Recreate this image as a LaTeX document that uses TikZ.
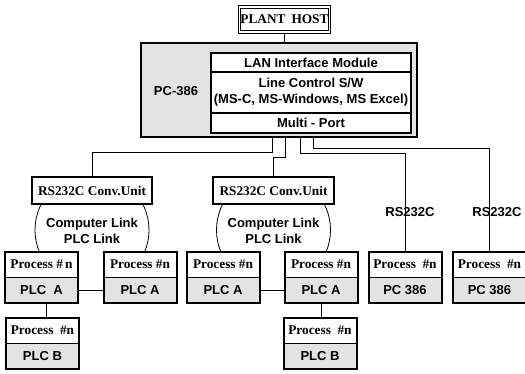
\documentclass[tikz,border=0pt]{standalone}
\usepackage{fontspec}
\setmainfont{Liberation Serif}
\setsansfont{Liberation Sans}
\definecolor{stip}{gray}{0.89}
\newcommand\mkpbox[5]{%
  \node[prow,anchor=north] (#1t) at (#2,#3) {#4};
  \node[plow,anchor=north] (#1b) at (#1t.south) {#5};
  \draw[line width=1pt] (#1t.south west) -- (#1t.south east);
  \draw[frame] (#1t.north west) rectangle (#1b.south east);
}
\begin{document}
\begin{tikzpicture}[x=1pt,y=-1pt,
  frame/.style={draw=black,line width=2pt},
  srf/.style={font=\fontsize{13.3}{16}\selectfont\rmfamily\bfseries},
  sf/.style={font=\fontsize{13}{16}\selectfont\sffamily\bfseries},
  prow/.style={srf,minimum width=73pt,minimum height=25pt,inner sep=0pt,outer sep=0pt,fill=white},
  plow/.style={sf,minimum width=73pt,minimum height=26pt,inner sep=0pt,outer sep=0pt,fill=stip},
  convbox/.style={srf,draw=black,line width=2pt,fill=white,minimum width=120pt,minimum height=27pt,inner sep=0pt,outer sep=0pt},
  innerrow/.style={sf,draw=black,line width=1.3pt,fill=white,minimum width=200pt,inner sep=0pt,outer sep=0pt,align=center},
  wire/.style={line width=0.8pt},
]
\useasboundingbox (0,0) rectangle (525,373);
\fill[white] (0,0) rectangle (525,373);

% plant host
\node[srf,draw=black,line width=1.3pt,double=white,double distance=1.2pt,fill=white,
      minimum width=90pt,minimum height=25pt,inner sep=0pt] (ph) at (284.5,19.5) {PLANT\hspace{0.45em}HOST};

% PC-386 main box
\node[draw=black,line width=2pt,fill=stip,minimum width=276pt,minimum height=94pt,
      inner sep=0pt,outer sep=0pt,anchor=north west] (pc) at (141,43) {};
\node[sf] (pclab) at (176,91) {PC-386};
\node[innerrow,minimum height=19pt,anchor=north west] (lan) at (211,53) {LAN Interface Module};
\node[innerrow,minimum height=41pt,anchor=north] (lc) at (lan.south) {Line Control S/W\\(MS-C, MS-Windows, MS Excel)};
\node[innerrow,minimum height=20pt,anchor=north] (mp) at (lc.south) {Multi - Port};

\draw[wire] (ph.south) -- (ph.south |- pc.north);

% conversion units
\node[convbox] (c1) at (92,190.5) {RS232C Conv.Unit};
\node[convbox,minimum width=121pt] (c2) at (273.5,190.5) {RS232C Conv.Unit};

% link circles
\coordinate (k1) at (92,230);
\coordinate (k2) at (273.5,230);
\begin{scope}
  \clip (20,204) rectangle (170,252);
  \draw[wire] (k1) circle[radius=57pt];
\end{scope}
\begin{scope}
  \clip (200,204) rectangle (350,252);
  \draw[wire] (k2) circle[radius=57pt];
\end{scope}
\node[sf,align=center] (cl1) at (92,231) {Computer Link\\PLC Link};
\node[sf,align=center] (cl2) at (273.5,231) {Computer Link\\PLC Link};

% process boxes
\mkpbox{pa}{41.5}{252}{Process \#\,n}{PLC\ \ A}
\mkpbox{pb}{140}{252}{Process \#n}{PLC A}
\mkpbox{pc}{223}{252}{Process \#n}{PLC A}
\mkpbox{pd}{321}{252}{Process \#n}{PLC A}
\mkpbox{pe}{405}{252}{Process\ \ \#n}{PC 386}
\mkpbox{pf}{489.5}{252}{Process\ \ \#n}{PC 386}
\mkpbox{pg}{42.5}{318}{Process\ \ \#n}{PLC B}
\mkpbox{ph}{320}{318}{Process\ \ \#n}{PLC B}

% bus lines
\coordinate (t1) at (272,152);
\coordinate (t2) at (285,157);
\coordinate (t3) at (300,153);
\coordinate (t4) at (313,148);
\draw[wire] (pc.south -| t1) -- (t1) -| (c1.north);
\draw[wire] (pc.south -| t2) -- (t2) -| (c2.north);
\draw[wire] (pc.south -| t3) -- (t3) -| (pet.north);
\draw[wire] (pc.south -| t4) -- (t4) -| (pft.north);

\node[sf] (rs1) at (410,212) {RS232C};
\node[sf] (rs2) at (497,212) {RS232C};

% links between PLCs
\draw[wire] (pab.east) -- (pbb.west);
\draw[wire] (pcb.east) -- (pdb.west);
\coordinate (xa) at (46,0);
\coordinate (xb) at (321,0);
\draw[wire] (pab.south -| xa) -- (pgt.north -| xa);
\draw[wire] (pdb.south -| xb) -- (pht.north -| xb);
\end{tikzpicture}
\end{document}
